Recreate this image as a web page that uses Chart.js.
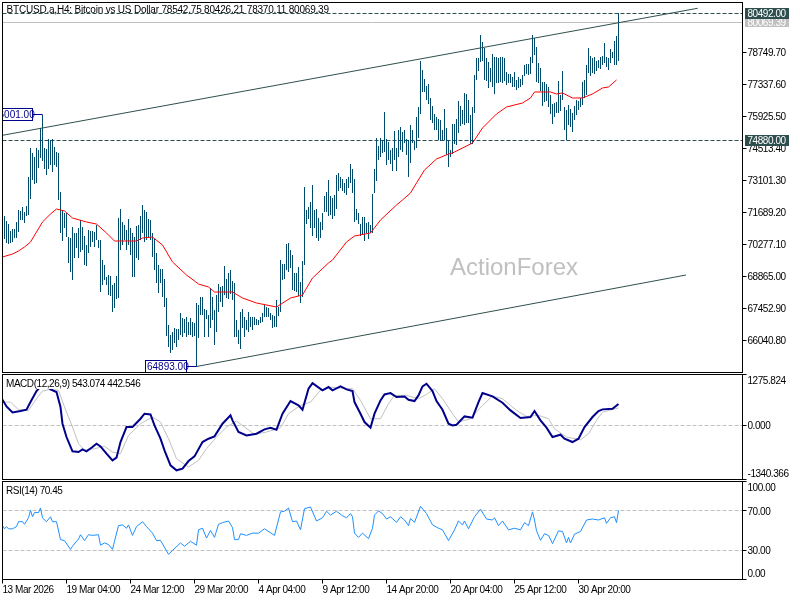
<!DOCTYPE html>
<html><head><meta charset="utf-8">
<style>
html,body{margin:0;padding:0;background:#fff;overflow:hidden}
canvas{position:absolute;left:0;display:block}
</style>
<script src="https://cdn.jsdelivr.net/npm/chart.js@4/dist/chart.umd.min.js"></script>
</head><body>
<canvas id="main" width="800" height="373" style="top:0;width:800px;height:373px"></canvas>
<canvas id="macd" width="800" height="107" style="top:373px;width:800px;height:107px"></canvas>
<canvas id="rsi" width="800" height="120" style="top:480px;width:800px;height:120px"></canvas>
<script>
const barHigh=[71623,71535,71314,71181,70873,70961,70961,71270,71800,71756,71932,71712,71976,73256,74536,74315,74138,74536,74447,75418,76001,74536,74492,74933,74889,74933,74580,74359,74315,72594,71800,71668,71668,70608,70564,71049,70785,70785,71005,71358,71049,70652,70255,70917,70873,70873,70829,71137,70476,70476,69593,69372,68843,68931,68887,68490,68579,68887,71447,71844,71270,71137,70917,71403,71005,70785,70608,71093,71137,71535,72020,71800,71712,71403,71358,70785,70520,69902,69372,69196,69196,68755,67916,66725,66283,66416,66592,66548,66548,67255,67033,66989,67077,66857,67033,66857,66813,67696,67608,67960,67960,67431,67387,67166,68357,67960,67387,68048,68534,68402,68446,69328,68755,69020,69152,68667,68579,66945,66504,67299,67431,67077,66945,67299,67077,67077,67077,66989,66945,67077,67255,67608,67519,67475,67255,67166,67122,67828,67519,69593,69416,69416,70299,70344,70034,69813,69020,69020,69284,68623,69549,72815,71800,71932,72153,72903,71800,71844,71447,71270,71668,72417,72594,73124,72417,72329,72461,73344,73432,73256,73168,72992,73168,73256,73830,73609,73168,71844,71668,71181,71491,71491,71226,71270,71137,72505,73609,74977,74624,74977,74845,76124,74933,74800,74447,74536,75286,74536,75330,75463,75242,75330,74933,74889,75551,75330,74845,75904,76345,78375,77978,77581,77272,77360,76742,76389,76036,75904,75815,75771,75330,76257,75418,74889,74447,75595,75595,75815,76610,76389,76213,76963,76919,76654,75992,76345,77757,78507,78507,79522,79213,78948,78507,78331,78066,78684,78552,78552,78507,78552,78552,78507,77890,77801,77801,77669,77890,77537,77669,77581,77757,78199,78243,78243,78552,79522,79390,78993,78287,78066,77448,77448,77360,77228,76875,76478,76522,76566,77493,76875,77934,76345,76213,76433,76257,76080,76389,76654,76610,76742,77448,77537,78199,78948,78596,78507,78552,78375,78419,78552,78596,79170,78552,78507,78904,78772,79257,79478,80492];
const barLow=[70652,70520,70344,70299,70344,70388,70564,70564,70829,71358,71358,71226,71535,71579,72285,73124,72947,72992,73653,74094,73962,73609,73344,73609,73785,73477,73785,73697,72241,70785,70432,71005,70608,69461,69064,68711,69681,70123,69681,69946,70034,69372,69328,69902,70167,70388,70167,70476,70123,68181,68490,68711,68490,68048,68004,67299,67475,67872,67916,70034,70255,70476,70034,70255,69813,68843,68843,69681,69593,70476,70785,70388,70476,70564,70476,69725,69152,68579,68137,68579,67960,67519,66239,65754,65489,65621,65931,65754,66063,66283,66195,66372,66195,66283,66283,66195,66239,64893,66151,67166,67166,66195,66989,66195,66592,66945,65842,66416,67299,67740,67519,68048,67916,67872,68092,67828,66195,66195,65886,65665,66592,66195,66504,66416,66636,66504,66725,66725,66725,66813,66857,67077,67077,67077,66945,66592,66636,66636,67122,67299,68711,68755,69152,69064,69240,68269,68225,68181,68004,67696,67960,69372,71181,71403,71005,70652,71005,70564,70432,70564,70917,71712,71712,71535,71579,71403,71535,71844,72638,72770,72638,72550,72461,72770,72992,72550,71270,71358,71181,70652,70696,70432,70785,70520,70785,70785,72550,73080,74006,74138,74315,74359,73785,74006,73830,73521,74006,73521,74138,74447,74359,74756,74227,73256,73874,74756,74447,74536,74977,76036,77007,77007,76654,76478,75771,75639,75330,75330,74889,74845,74845,74889,74227,73697,74138,74271,74712,74668,75198,75507,75595,75551,75639,75639,74712,74712,76080,77537,77934,78331,78375,77537,77493,77184,77448,77228,76919,77405,77405,77448,77405,77493,77316,77405,77405,77228,77228,77095,77184,77228,77316,77713,77801,77757,77801,78287,78639,77448,77405,77051,76389,76566,76610,76345,76036,75595,75904,76080,76080,76168,76654,75330,74880,75551,75463,75242,75771,75992,76213,76345,76433,76742,76875,77846,77713,77846,77801,77934,78066,78022,78199,78287,78110,77978,78287,78507,78199,78199,78370];
const maBars=[0,5,8,11,14,17,20,24,27,31,35,42,47,52,56,60,67,70,75,80,85,92,98,103,106,115,120,127,137,144,150,155,163,165,172,176,184,189,197,200,204,207,211,217,223,225,235,240,247,252,260,264,266,274,277,280,285,290,295,300,303,307];
const maValues=[69725,69858,69990,70167,70388,70829,71270,71623,71844,71756,71447,71270,71181,70785,70432,70432,70432,70564,70608,70255,69505,68931,68534,68402,68181,68181,67916,67696,67519,67916,68048,68799,69461,69593,70388,70652,70785,71358,72020,72241,72550,72992,73565,74050,74271,74315,74756,75418,76036,76345,76522,76742,77007,77007,76919,76963,76742,76742,76919,77184,77228,77537];
const upperTrendBars=[0,347.6];
const upperTrendValues=[75096,80701];
const lowerTrendBars=[97,341.75];
const lowerTrendValues=[64893,68931];
const dashedLevels=[80492,74880];
const currentPrice=[80069.39];
const peakBars=[20,97];
const peakValues=[76001,64893];
const priceTicks=[78749.70,77337.60,75925.50,74513.40,73101.30,71689.20,70277.10,68865.00,67452.90,66040.80];
const macdBars=[0,2,5,9,12,14,17,20,22,24,27,29,30,32,35,38,40,42,45,47,49,52,55,57,59,62,65,69,71,74,76,79,81,84,87,90,93,96,100,103,106,110,114,115,118,122,127,131,134,137,140,144,148,150,153,155,160,163,165,169,172,175,176,179,181,184,186,189,191,194,197,201,203,206,208,210,212,215,217,220,223,225,227,231,235,238,240,245,250,254,259,264,266,269,272,275,279,281,285,288,291,295,298,300,305,308];
const macdValues=[647,481,332,365,398,589,863,1029,1004,905,838,465,50,-282,-639,-656,-589,-639,-531,-448,-515,-697,-863,-797,-407,-33,-33,174,299,282,8,-324,-614,-988,-1112,-1071,-880,-764,-407,-324,-266,50,257,133,-158,-241,-199,-91,-50,-100,299,614,506,398,921,1062,880,963,880,979,905,863,589,299,91,-50,299,631,780,813,714,730,647,614,755,979,1046,863,614,398,50,8,25,232,199,589,813,730,573,382,191,216,365,133,-50,-282,-224,-324,-407,-324,-33,216,365,407,423,543];
const signalBars=[0,4,8,13,17,20,24,28,31,35,38,41,46,51,55,59,63,69,75,79,83,87,93,98,102,107,112,117,121,126,132,139,143,149,154,159,164,167,175,179,184,189,193,196,202,208,212,216,220,225,228,234,240,245,250,257,262,268,273,276,282,289,293,297,300,308];
const signalValues=[589,589,398,382,672,863,905,880,465,-33,-448,-614,-573,-515,-656,-697,-241,50,216,91,-324,-822,-1029,-863,-573,-282,-33,116,-33,-216,-158,-50,299,506,589,880,963,946,921,631,174,174,548,755,755,672,780,921,672,299,91,174,506,739,672,382,232,257,174,-75,-282,-349,-199,133,340,443];
const macdTicks=[1275.824,0,-1340.366];
const rsiBars=[0,1,2,3,5,7,8,10,11,13,14,15,16,18,19,20,21,22,24,25,27,29,31,34,35,38,39,41,43,45,48,49,51,53,55,56,58,60,62,63,65,67,70,72,75,77,79,83,85,89,91,94,97,98,100,102,104,106,108,110,113,115,116,118,119,122,125,128,131,136,139,141,143,145,147,149,151,154,157,160,162,164,167,170,172,174,175,176,178,180,183,185,186,188,190,192,194,197,199,201,203,204,206,209,212,215,218,220,223,226,228,230,231,233,236,239,242,245,246,248,250,253,256,259,261,263,265,266,267,269,271,273,275,278,280,282,283,284,286,289,292,295,298,301,302,304,306,307,308];
const rsiValues=[55,51.7,54,51.7,51.7,54,59,59,56.3,63,70.7,64,68.3,68.3,73,63,60.7,59,64,59,59,40.7,39.7,30.7,34,41.3,45.7,39.7,45.7,45,45.7,35,37.3,35.7,30.7,39,55,55.7,52.3,55.7,45,54,59,54,47.3,39.7,40,25.7,29.7,37.3,34,39,35,50.7,52.3,42.3,50,43,56.3,58,59.7,53,40.7,40.7,46.7,45,47.3,47.3,51.7,45,69,69.7,73,59,59.7,50.7,72.3,74,59.7,63,69.7,65.7,69.7,65,63,67.3,64,47.3,43,47.3,41.7,52.3,65.7,70,67.3,61.7,64,58.3,64,60.7,55,62.3,58.3,74.7,67.3,55.7,52.3,50.7,39.7,50.7,59.7,55.7,59.7,51.7,64,71.7,61.7,60.7,63,55,59.7,50.7,52.3,50.7,58,55,69,60.7,49.7,40,46.7,45,36.7,49.7,49,37.3,43,37.3,46.3,49,60.7,61.7,60.7,63,57.3,63,64,58,70.45];
const rsiTicks=[100,70,30,0];
const rsiLevels=[70,30];
const macdLevels=[0];
const xTickBars=[0,32,64,96,128,160,192,224,256,288];
const xTickLabels=["13 Mar 2026","19 Mar 04:00","24 Mar 12:00","29 Mar 20:00","4 Apr 04:00","9 Apr 12:00","14 Apr 20:00","20 Apr 04:00","25 Apr 12:00","30 Apr 20:00"];
const titleText="BTCUSD.a,H4: Bitcoin vs US Dollar 78542.75 80426.21 78370.11 80069.39";
const macdText="MACD(12,26,9) 543.074 442.546";
const rsiText="RSI(14) 70.45";
const watermark="ActionForex";

const FONT="'Liberation Sans'";
const FSIZE=10;
const SPACING='-0.45px';
const pts=(xs,ys)=>xs.map((x,i)=>({x,y:ys[i]}));
const snap=v=>Math.floor(v)+0.5;
Chart.defaults.animation=false;
Chart.defaults.font.family=FONT;
Chart.defaults.font.size=FSIZE;
Chart.defaults.color='#000';

function txt(ctx,s,x,y,color,font,sp){
  ctx.save();ctx.font=font||(FSIZE+'px '+FONT);ctx.letterSpacing=sp||SPACING;
  ctx.fillStyle=color;ctx.textAlign='left';ctx.textBaseline='middle';ctx.fillText(s,x,y);ctx.restore();
}
function frame(chart){
  const a=chart.chartArea,c=chart.ctx;
  c.save();c.strokeStyle='#000';c.lineWidth=1;c.strokeRect(a.left,a.top,a.width,a.height);c.restore();
}
function hLine(chart,v,color,dash){
  const a=chart.chartArea,c=chart.ctx,y=snap(chart.scales.y.getPixelForValue(v));
  c.save();c.strokeStyle=color;c.lineWidth=1;c.setLineDash(dash||[]);
  c.beginPath();c.moveTo(a.left,y);c.lineTo(a.right,y);c.stroke();c.restore();
}
const spacing={id:'spacing',beforeDraw(chart){chart.ctx.letterSpacing=SPACING;}};

function yScale(min,max,values,fmt){
  return {position:'right',min,max,
    afterBuildTicks:s=>{s.ticks=values.map(v=>({value:v}));},
    afterFit:s=>{s.width=57.5;s.paddingTop=0;s.paddingBottom=0;},
    border:{display:false},
    grid:{drawOnChartArea:false,tickLength:4,color:'#000',tickWidth:1},
    ticks:{padding:1,labelOffset:1,autoSkip:false,color:'#000',font:{size:FSIZE,family:FONT},callback:fmt}};
}
const xHidden={type:'linear',min:0,max:370,display:false,offset:false,grid:{offset:false}};

new Chart(document.getElementById('main'),{
  type:'bar',
  data:{datasets:[
    {type:'line',data:pts(maBars,maValues),borderColor:'#ff0000',borderWidth:1,pointRadius:0,order:1,tension:0},
    {type:'line',data:pts(upperTrendBars,upperTrendValues),borderColor:'#2f4f4f',borderWidth:1,pointRadius:0,order:2},
    {type:'line',data:pts(lowerTrendBars,lowerTrendValues),borderColor:'#2f4f4f',borderWidth:1,pointRadius:0,order:2},
    {type:'bar',data:barHigh.map((h,i)=>({x:i,y:[barLow[i],h]})),backgroundColor:'#004b6b',barThickness:1,grouped:false,inflateAmount:0,order:3}
  ]},
  options:{responsive:false,devicePixelRatio:1,
    layout:{padding:{left:2.5,top:2.5,right:0,bottom:0.5}},
    plugins:{legend:{display:false},tooltip:{enabled:false}},
    scales:{x:xHidden,y:yScale(64628.7,80956.1,priceTicks,v=>v.toFixed(2))}
  },
  plugins:[spacing,{id:'mainDeco',
    beforeDatasetsDraw(chart){
      txt(chart.ctx,watermark,450,268.5,'#c0c0c0','24px '+FONT,'0px');
      currentPrice.forEach(v=>hLine(chart,v,'#c0c0c0'));
      dashedLevels.forEach(v=>hLine(chart,v,'#2f4f4f',[4,2]));
    },
    afterDatasetsDraw(chart){
      const c=chart.ctx,a=chart.chartArea,xs=chart.scales.x,ys=chart.scales.y;
      c.save();c.beginPath();c.rect(a.left,a.top,a.width,a.height);c.clip();
      peakBars.forEach((b,i)=>{
        const x=xs.getPixelForValue(b),y=snap(ys.getPixelForValue(peakValues[i]));
        const right=Math.floor(x)-9.5,left=right-41;
        c.strokeStyle='#00008b';c.lineWidth=1;
        c.beginPath();c.moveTo(right,y);c.lineTo(x,y);c.stroke();
        c.fillStyle='#fff';c.fillRect(left,y-6,41,12);c.strokeRect(left,y-6,41,12);
        txt(c,peakValues[i].toFixed(2),left+1.5,y+1,'#00008b',null,'0px');
      });
      c.restore();
      txt(c,titleText,6.5,10.5,'#000',null,'-0.2px');
      frame(chart);
      const tag=(v,bg,h)=>{
        const y=snap(ys.getPixelForValue(v));
        c.fillStyle=bg;c.fillRect(745,y-h/2,44,h);
        txt(c,v.toFixed(2),747.5,y+1,'#fff');
      };
      tag(currentPrice[0],'#c0c0c0',9);
      tag(dashedLevels[0],'#2f4f4f',11);
      tag(dashedLevels[1],'#2f4f4f',11);
    }}]
});

new Chart(document.getElementById('macd'),{
  type:'line',
  data:{datasets:[
    {data:pts(macdBars,macdValues),borderColor:'#00008b',borderWidth:2,pointRadius:0,order:1},
    {data:pts(signalBars,signalValues),borderColor:'#c0c0c0',borderWidth:1,pointRadius:0,order:2}
  ]},
  options:{responsive:false,devicePixelRatio:1,
    layout:{padding:{left:2.5,top:1.5,right:0,bottom:0.5}},
    plugins:{legend:{display:false},tooltip:{enabled:false}},
    scales:{x:xHidden,y:yScale(-1340.366,1275.824,macdTicks,v=>{
      const s=v.toFixed(3);
      return v===macdTicks[0]?['',s]:v===macdTicks[2]?[s,'']:s;})}
  },
  plugins:[spacing,{id:'macdDeco',
    beforeDatasetsDraw(chart){macdLevels.forEach(v=>hLine(chart,v,'#c0c0c0',[4,2]));},
    afterDatasetsDraw(chart){
      const c=chart.ctx;
      c.fillStyle='#fff';c.fillRect(5,5,140,11);
      txt(c,macdText,6,11.5,'#000');frame(chart);
    }}]
});

new Chart(document.getElementById('rsi'),{
  type:'line',
  data:{datasets:[{data:pts(rsiBars,rsiValues),borderColor:'#1e90ff',borderWidth:1,pointRadius:0}]},
  options:{responsive:false,devicePixelRatio:1,
    layout:{padding:{left:2.5,top:1.5,right:0,bottom:0}},
    plugins:{legend:{display:false},tooltip:{enabled:false}},
    scales:{
      x:{type:'linear',min:0,max:370,offset:false,
        afterBuildTicks:s=>{s.ticks=xTickBars.map(v=>({value:v}));},
        afterFit:s=>{s.height=20.5;s.paddingLeft=0;s.paddingRight=0;},
        border:{display:false},
        grid:{drawOnChartArea:false,tickLength:4,color:'#000'},
        ticks:{align:'start',maxRotation:0,minRotation:0,autoSkip:false,padding:1,color:'#000',font:{size:FSIZE,family:FONT},
          callback:v=>xTickLabels[xTickBars.indexOf(v)]}},
      y:yScale(0,100,rsiTicks,v=>{
        const s=v.toFixed(2);
        return v===100?['',s]:v===0?[s,'']:s;})
    }
  },
  plugins:[spacing,{id:'rsiDeco',
    beforeDatasetsDraw(chart){rsiLevels.forEach(v=>hLine(chart,v,'#c0c0c0',[4,2]));},
    afterDatasetsDraw(chart){txt(chart.ctx,rsiText,6,11.5,'#000');frame(chart);}}]
});
</script>
</body></html>
